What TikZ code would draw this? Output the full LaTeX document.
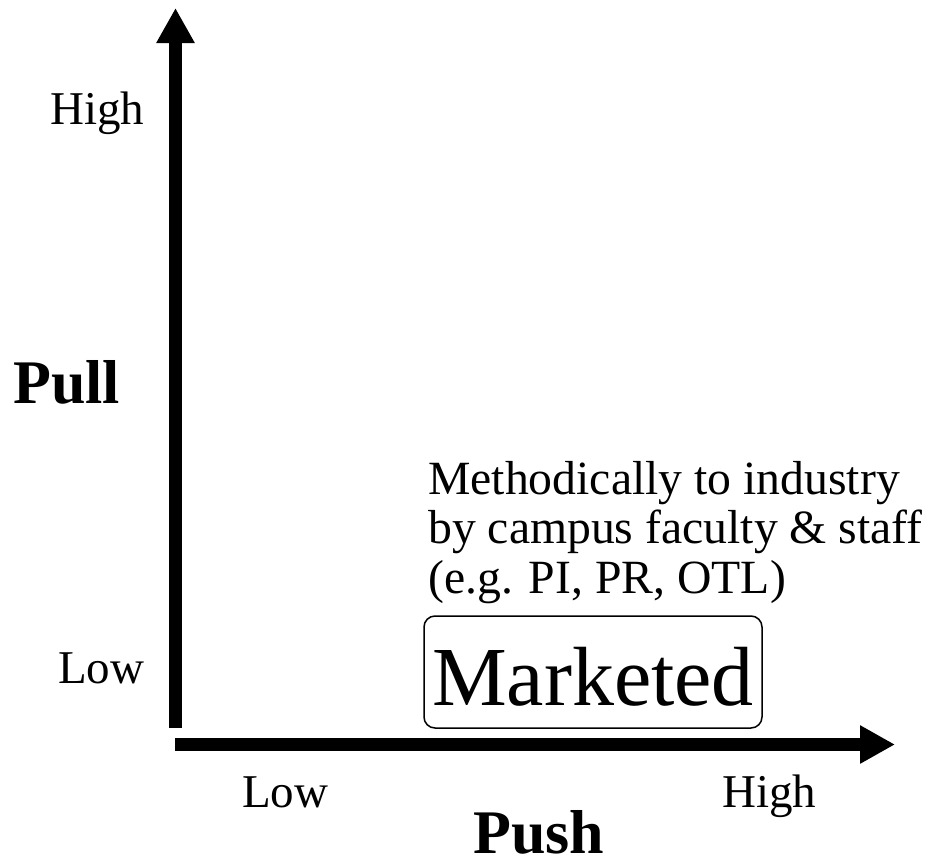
\documentclass[tikz,border=0pt]{standalone}
\usepackage{fontspec}
\setmainfont{Liberation Serif}
\usetikzlibrary{arrows.meta}
\begin{document}
\begin{tikzpicture}[x=1pt,y=-1pt,
  axis/.style={line width=13pt,-{Triangle[width=36pt,length=35pt]}},
  lbl/.style={inner sep=0pt,font=\fontsize{47}{50}\selectfont},
  big/.style={inner sep=0pt,font=\fontsize{62}{64}\selectfont\bfseries},
  mbox/.style={draw,line width=1.5pt,rounded corners=11pt,minimum width=338pt,minimum height=112pt,inner sep=0pt,
    text height=66pt,text depth=0pt,font=\fontsize{84}{86}\selectfont}]
\useasboundingbox (0,0) rectangle (930,863);
% axes
\coordinate (yo) at (175.5,728);
\coordinate (ytip) at (175.5,8);
\coordinate (xo) at (175,744.5);
\coordinate (xtip) at (895,744.5);
\draw[axis] (yo) -- (ytip);
\draw[axis] (xo) -- (xtip);
% vertical axis labels
\node[lbl,anchor=base west] (yhigh) at (50,124) {High};
\node[big,anchor=base west] (pull) at (13,403) {Pull};
\node[lbl,anchor=base west] (ylow) at (58,683) {Low};
% horizontal axis labels
\node[lbl,anchor=base west] (xlow) at (242,807) {Low};
\node[lbl,anchor=base west] (xhigh) at (722,807) {High};
\node[big,anchor=base] (push) at (539,853) {Push};
% description
\node[lbl,anchor=base west,font=\fontsize{47.7}{50}\selectfont] (m1) at (428,494) {Methodically to industry};
\node[lbl,anchor=base west,font=\fontsize{47.7}{50}\selectfont] (m2) at (428,543) {by campus faculty \& staff};
\node[lbl,anchor=base west,font=\fontsize{47.7}{50}\selectfont] (m3) at (428,593) {(e.g. PI, PR, OTL)};
% box
\node[mbox] (mk) at (593,672) {Marketed};
\end{tikzpicture}
\end{document}
